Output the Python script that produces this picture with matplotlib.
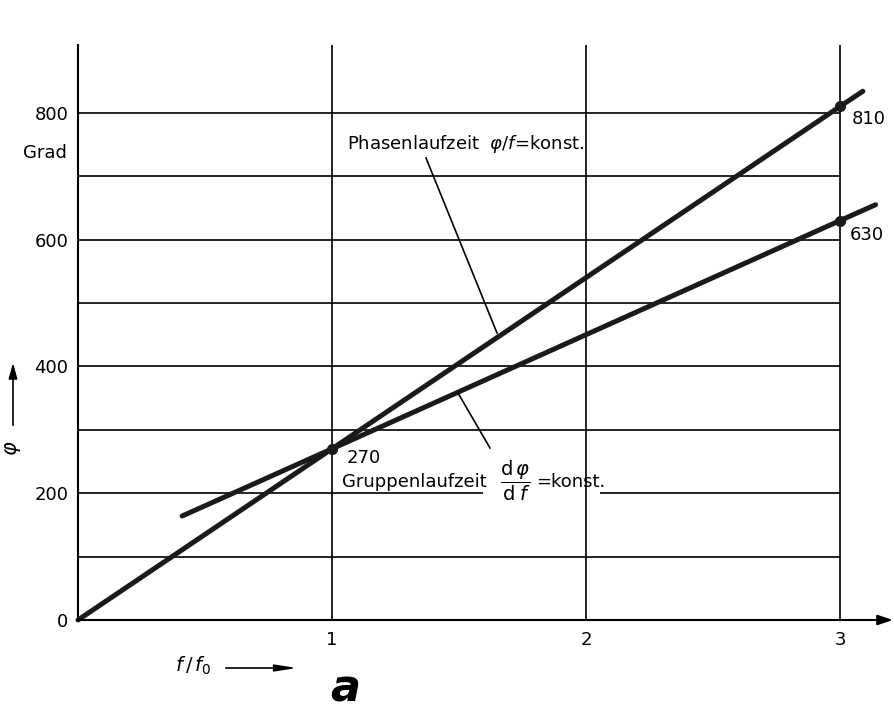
import matplotlib
matplotlib.use("Agg")
import matplotlib.pyplot as plt

plt.rcParams['font.family'] = ['DejaVu Sans']
plt.rcParams['mathtext.fontset'] = 'dejavusans'

# ---- data ----
phase_x = [0.0, 1.0, 3.0, 3.09]
phase_y = [0, 270, 810, 834]
group_x = [0.41, 1.0, 3.0, 3.14]
group_y = [164, 270, 630, 655]
marked_x = [1, 3, 3]
marked_y = [270, 810, 630]
marked_labels = ["270", "810", "630"]
yticks = [0, 200, 400, 600, 800]
ytick_labels = ["0", "200", "400", "600", "800"]
xticks = [1, 2, 3]
xtick_labels = ["1", "2", "3"]
hgrid = [100, 200, 300, 400, 500, 600, 700, 800]
vgrid = [1, 2, 3]

W, H = 894, 718
fig = plt.figure(figsize=(W / 100, H / 100), dpi=100)
x0p, x3p = 78, 840
pxu = (x3p - x0p) / 3.0
y0p, ypu = 620, 0.634
xmax = (893 - x0p) / pxu
ymax = (y0p - 45) / ypu
ax = fig.add_axes([x0p / W, (H - y0p) / H, (893 - x0p) / W, (y0p - 45) / H])
ax.set_xlim(0, xmax)
ax.set_ylim(0, ymax)
for s in ax.spines.values():
    s.set_visible(False)

def px(xp):
    return (xp - x0p) / pxu

def py(yp):
    return (y0p - yp) / ypu

k = 'black'
# grid
for g in hgrid:
    if g == 200:
        ax.plot([0, px(483)], [g, g], color=k, lw=1.2, solid_capstyle='butt')
        ax.plot([px(600), 3], [g, g], color=k, lw=1.2, solid_capstyle='butt')
    else:
        ax.plot([0, 3], [g, g], color=k, lw=1.2, solid_capstyle='butt')
for g in vgrid:
    ax.plot([g, g], [0, ymax], color=k, lw=1.2, solid_capstyle='butt')
# axes
ax.plot([0, 0], [0, ymax], color=k, lw=1.5, clip_on=False)
ax.annotate("", xy=(xmax, 0), xytext=(0, 0),
            arrowprops=dict(arrowstyle='-|>,head_length=0.9,head_width=0.3', color=k, lw=1.5,
                            shrinkA=0, shrinkB=0), annotation_clip=False)

# curves
ax.plot(phase_x, phase_y, color='#1a1a1a', lw=3.6, solid_capstyle='round', clip_on=False)
ax.plot(group_x, group_y, color='#1a1a1a', lw=3.6, solid_capstyle='round', clip_on=False)
ax.plot(marked_x, marked_y, 'o', color='#1a1a1a', ms=7, clip_on=False)

# ticks
ax.set_yticks(yticks)
ax.set_yticklabels(ytick_labels)
ax.set_xticks(xticks)
ax.set_xticklabels(xtick_labels)
ax.tick_params(axis='y', length=0, pad=7, labelsize=13)
ax.tick_params(axis='x', length=0, pad=8, labelsize=13)

fs = 13
ax.text(px(67), py(153), "Grad", ha='right', va='center', fontsize=fs)

# value labels
ax.text(px(347), py(458), marked_labels[0], ha='left', va='center', fontsize=fs)
ax.text(px(852), py(119), marked_labels[1], ha='left', va='center', fontsize=fs)
ax.text(px(850), py(235), marked_labels[2], ha='left', va='center', fontsize=fs)

# annotations
ax.text(px(347), py(149), r"Phasenlaufzeit  $\varphi/f$=konst.", ha='left', va='baseline', fontsize=fs)
ax.plot([px(426), px(497)], [py(158), py(333)], color=k, lw=1.2)
ax.text(px(342), py(487), "Gruppenlaufzeit", ha='left', va='baseline', fontsize=fs)
ax.text(px(515), py(481), r"$\dfrac{\mathrm{d}\,\varphi}{\mathrm{d}\;f}$", ha='center', va='center', fontsize=fs + 1)
ax.text(px(536), py(487), "=konst.", ha='left', va='baseline', fontsize=fs)
ax.plot([px(458), px(490)], [py(393), py(448)], color=k, lw=1.2)

# axis titles
fig.text(13 / W, 1 - 448 / H, r"$\varphi$", rotation=90, ha='center', va='center', fontsize=15)
fig.add_artist(matplotlib.patches.FancyArrowPatch((13 / W, 1 - 428 / H), (13 / W, 1 - 360 / H),
               transform=fig.transFigure, arrowstyle='-|>,head_length=4.7,head_width=1.3',
               color=k, lw=1.2, mutation_scale=2))
fig.text(175 / W, 1 - 666 / H, r"$f\,/\,f_0$", ha='left', va='center', fontsize=14)
fig.add_artist(matplotlib.patches.FancyArrowPatch((223 / W, 1 - 668 / H), (300 / W, 1 - 668 / H),
               transform=fig.transFigure, arrowstyle='-|>,head_length=6.5,head_width=1.0',
               color=k, lw=1.2, mutation_scale=2))
fig.text(345 / W, 1 - 689 / H, "a", ha='center', va='center', fontsize=32, style='italic', weight='bold')

fig.savefig("out.png", dpi=100)
